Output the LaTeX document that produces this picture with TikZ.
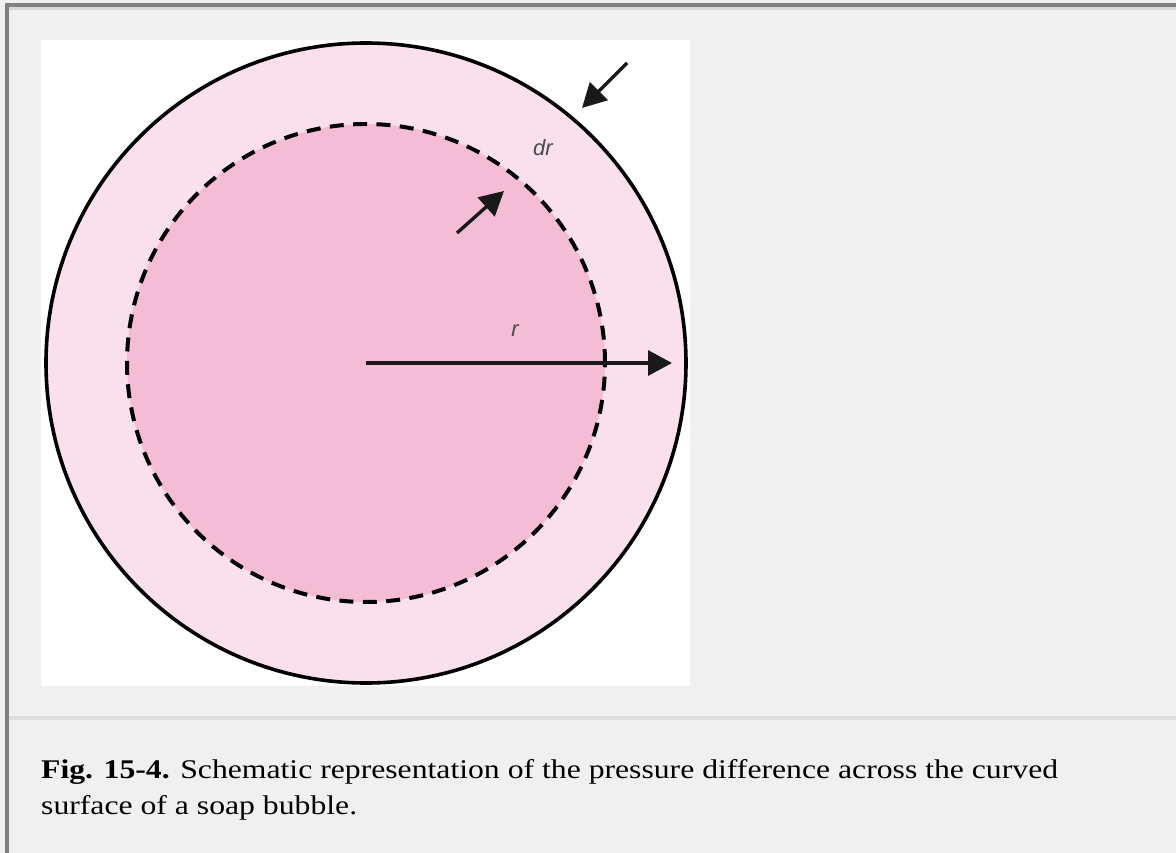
\documentclass[tikz,border=0pt]{standalone}
\usepackage{fontspec}
\setmainfont{Liberation Serif}
\setsansfont{Liberation Sans}
\newfontfamily\capfont[FakeStretch=1.174]{Liberation Serif}
\usetikzlibrary{arrows.meta, positioning}

\definecolor{pagebg}{HTML}{F0F0F0}
\definecolor{framedark}{HTML}{808080}
\definecolor{framelight}{HTML}{D8D8D8}
\definecolor{rulegray}{HTML}{DEDEDE}
\definecolor{ringpink}{HTML}{FAE0EC}
\definecolor{corepink}{HTML}{F5BDD5}
\definecolor{labelgray}{HTML}{4A4A4A}

\tikzset{
  force/.style={-{Triangle[length=24pt,width=25pt]}, line width=3.4pt, black!90},
  symbol/.style={font=\sffamily\itshape\fontsize{22}{26}\selectfont, text=labelgray, inner sep=0pt}
}

\begin{document}
\begin{tikzpicture}[x=1pt, y=-1pt]
\useasboundingbox (0,0) rectangle (1176,853);

% page and frame
\fill[pagebg] (0,0) rectangle (1176,853);
\fill[framedark] (5,3) rectangle (1176,7);
\fill[framelight] (8,7) rectangle (1176,10);
\fill[framedark] (5,3) rectangle (9,853);
\fill[rulegray] (9,716) rectangle (1176,720);
\fill[white] (41,40) rectangle (690,686);

% bubble
\coordinate (c) at (366,363);
\fill[ringpink] (c) circle (320pt);
\fill[corepink] (c) circle (239pt);
\draw[line width=4pt, dash pattern=on 14pt off 9.4pt] (c) circle (239pt);
\draw[line width=3.6pt] (c) circle (320pt);

% radius
\coordinate (tip) at (672,363);
\draw[force] (c) -- (tip);
\node[symbol] (r) at (515,331) {r};

% pressure on the surfaces
\coordinate (out1) at (627,63);
\coordinate (out2) at (582,108);
\draw[force] (out1) -- (out2);
\coordinate (in1) at (457,233);
\coordinate (in2) at (504,191);
\draw[force] (in1) -- (in2);
\node[symbol] (dr) at (543,148) {dr};

% caption
\node[anchor=base west, inner sep=0pt, align=left,
      font=\capfont\fontsize{27}{36}\selectfont] (cap) at (41,814)
  {\textbf{Fig. 15-4.} Schematic representation of the pressure difference across the curved\\
   surface of a soap bubble.};
\end{tikzpicture}
\end{document}
